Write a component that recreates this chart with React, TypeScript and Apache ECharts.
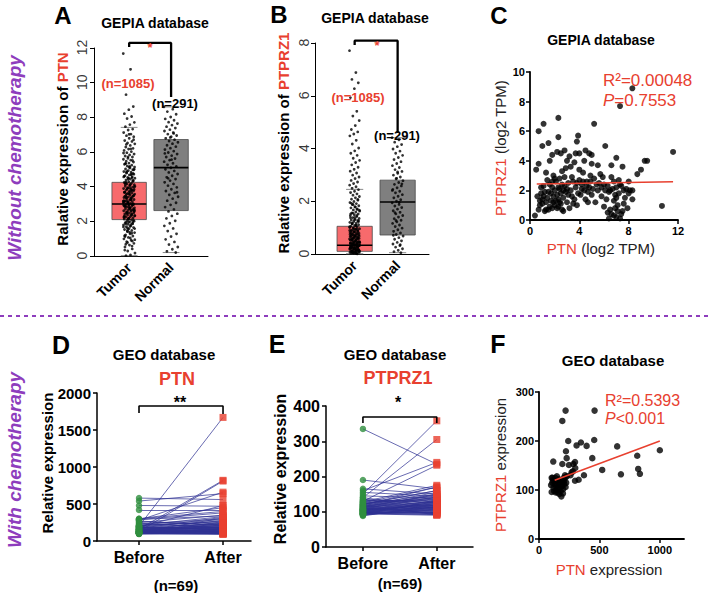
import React, { useEffect, useRef } from 'react';
import * as echarts from 'echarts';

// ---------------- DATA ----------------
const gepiaGroups = ['Tumor', 'Normal'];
const pairGroups = ['Before', 'After'];
const ptnTicks = [0, 2, 4, 6, 8, 10, 12];
const ptprz1Ticks = [0, 2, 4, 6, 8];

// box stats per group: [lower whisker, Q1, median, Q3, upper whisker]
const ptnBoxStats = [
  [0.02, 2.1, 3.0, 4.25, 7.42],
  [0.2, 2.62, 5.1, 6.72, 8.6],
];
const ptprz1BoxStats = [
  [0.01, 0.1, 0.33, 1.05, 2.45],
  [0.05, 0.72, 1.97, 2.8, 4.41],
];

const tumorPTN = [11.68, 10.77, 9.31, 8.62, 8.44, 8.21, 8.05, 7.93, 7.71, 7.58, 7.46, 7.32, 7.27, 7.12, 7.03, 6.94, 6.88, 6.79, 6.66, 6.61, 6.52, 6.47, 6.38, 6.29, 6.21, 6.17, 6.09, 6.02, 5.96, 5.88, 5.83, 5.77, 5.71, 5.64, 5.58, 5.53, 5.47, 5.42, 5.36, 5.29, 5.24, 5.19, 5.13, 5.08, 5.02, 4.98, 4.93, 4.87, 4.84, 4.79, 4.72, 4.68, 4.63, 4.57, 4.53, 4.49, 4.44, 4.38, 4.33, 4.29, 4.24, 4.19, 4.16, 4.11, 4.06, 4.02, 3.97, 3.94, 3.89, 3.85, 3.81, 3.76, 3.73, 3.68, 3.64, 3.61, 3.57, 3.52, 3.48, 3.45, 3.41, 3.37, 3.33, 3.3, 3.26, 3.22, 3.18, 3.14, 3.11, 3.07, 3.03, 2.99, 2.96, 2.92, 2.89, 2.86, 2.82, 2.78, 2.75, 2.71, 2.68, 2.64, 2.61, 2.57, 2.54, 2.5, 2.47, 2.43, 2.39, 2.36, 2.32, 2.28, 2.25, 2.21, 2.17, 2.13, 2.09, 2.05, 2.01, 1.97, 1.92, 1.88, 1.83, 1.79, 1.74, 1.69, 1.64, 1.58, 1.53, 1.47, 1.41, 1.35, 1.28, 1.22, 1.15, 1.07, 0.99, 0.91, 0.82, 0.73, 0.63, 0.52, 0.41, 0.29, 0.17, 0.06, 0.02, 3.02, 2.97, 3.12, 3.38, 2.46, 2.58, 3.71, 4.13, 1.86, 2.14, 2.93, 3.24, 3.56, 2.69, 2.81, 3.44, 4.52, 1.62, 2.33, 3.91, 5.34, 4.76, 1.96, 2.27, 2.63, 3.17, 3.84, 1.37, 1.12, 0.86,
  1.53, 1.68, 1.81, 1.94, 2.07, 2.19, 2.31, 2.42, 2.53, 2.66, 2.77, 2.88, 2.98, 3.09, 3.19, 3.29, 3.39, 3.5, 3.6, 3.7, 3.8, 3.92, 4.03, 4.14, 4.26, 4.37, 4.49, 4.61, 4.74, 4.88, 5.01, 5.17, 5.33, 5.51, 5.72, 5.94, 6.18, 6.44, 6.71, 7.02, 1.17, 1.31, 1.44, 1.58, 1.71, 1.85, 1.98, 2.11, 2.23, 2.35, 2.48, 2.6, 2.72, 2.84, 2.95, 3.06, 3.16, 3.27, 3.36, 3.47, 3.58, 3.67, 3.78, 3.87, 3.98, 4.09, 4.2, 4.31, 4.43, 4.56, 4.69, 4.82, 4.97, 5.12, 0.34, 0.57, 0.78, 0.94, 1.04, 0.68];
const normalPTN = [8.61, 8.47, 8.33, 8.18, 8.02, 7.91, 7.83, 7.72, 7.64, 7.55, 7.46, 7.38, 7.29, 7.21, 7.12, 7.03, 6.95, 6.88, 6.79, 6.71, 6.63, 6.56, 6.48, 6.39, 6.31, 6.22, 6.14, 6.05, 5.97, 5.88, 5.79, 5.71, 5.62, 5.53, 5.44, 5.35, 5.26, 5.17, 5.09, 5.0, 4.91, 4.82, 4.73, 4.63, 4.54, 4.44, 4.35, 4.25, 4.16, 4.06, 3.96, 3.85, 3.75, 3.64, 3.53, 3.42, 3.31, 3.19, 3.07, 2.95, 2.82, 2.69, 2.57, 2.44, 2.31, 2.17, 2.03, 1.89, 1.74, 1.59, 1.44, 1.28, 1.12, 0.96, 0.81, 0.66, 0.52, 0.39, 0.27, 0.2, 6.84, 5.92, 7.07, 4.48, 3.68, 5.56];
const tumorPTPRZ1 = [7.71, 6.88, 6.62, 6.49, 6.27, 5.93, 5.41, 5.23, 5.06, 4.87, 4.72, 4.63, 4.55, 4.48, 4.31, 4.17, 4.02, 3.91, 3.82, 3.74, 3.63, 3.55, 3.47, 3.38, 3.29, 3.21, 3.14, 3.07, 2.99, 2.92, 2.86, 2.79, 2.73, 2.67, 2.61, 2.55, 2.49, 2.44, 2.38, 2.33, 2.28, 2.23, 2.18, 2.13, 2.08, 2.04, 1.99, 1.95, 1.91, 1.87, 1.83, 1.79, 1.75, 1.71, 1.67, 1.63, 1.59, 1.56, 1.52, 1.49, 1.45, 1.42, 1.38, 1.35, 1.32, 1.29, 1.26, 1.23, 1.2, 1.17, 1.14, 1.11, 1.08, 1.05, 1.02, 0.99, 0.96, 0.93, 0.9, 0.87, 0.84, 0.81, 0.78, 0.75, 0.72, 0.69, 0.66, 0.63, 0.6, 0.57, 0.54, 0.51, 0.48, 0.45, 0.42, 0.39, 0.36, 0.33, 0.3, 0.27, 0.24, 0.21, 0.18, 0.15, 0.12, 0.09, 0.06, 0.03, 0.01, 0.05, 0.11, 0.17, 0.23, 0.29, 0.35, 0.41, 0.47, 0.53, 0.59, 0.65, 0.71, 0.77, 0.83, 0.89, 0.95, 0.08, 0.14, 0.2, 0.26, 0.32, 0.38, 0.44, 0.5, 0.56, 0.62, 0.68, 0.74, 0.02, 0.07, 0.13, 0.19, 0.25, 0.31, 0.37, 0.43, 0.04, 0.1, 0.16, 0.22, 0.28,
  0.02, 0.04, 0.06, 0.09, 0.12, 0.15, 0.18, 0.21, 0.24, 0.27, 0.31, 0.34, 0.37, 0.41, 0.44, 0.47, 0.51, 0.55, 0.58, 0.62, 0.66, 0.7, 0.74, 0.79, 0.84, 0.88, 0.93, 0.98, 1.03, 1.09, 1.15, 1.22, 1.29, 1.37, 1.46, 1.55, 1.66, 1.78, 1.92, 2.07, 0.03, 0.07, 0.1, 0.13, 0.16, 0.19, 0.23, 0.26, 0.3, 0.33, 0.36, 0.4, 0.43, 0.46, 0.52, 0.57, 0.61, 0.67, 0.73, 0.8, 0.86, 0.92, 1.0, 1.08, 1.17, 1.27, 1.39, 1.52, 1.69, 1.88];
const normalPTPRZ1 = [4.41, 4.33, 4.24, 4.15, 4.07, 3.98, 3.9, 3.82, 3.74, 3.66, 3.58, 3.5, 3.43, 3.35, 3.28, 3.2, 3.13, 3.06, 2.99, 2.92, 2.85, 2.78, 2.71, 2.64, 2.58, 2.51, 2.45, 2.38, 2.32, 2.25, 2.19, 2.13, 2.06, 2.0, 1.94, 1.88, 1.82, 1.76, 1.7, 1.64, 1.58, 1.52, 1.46, 1.4, 1.34, 1.28, 1.22, 1.16, 1.1, 1.04, 0.98, 0.92, 0.86, 0.8, 0.74, 0.68, 0.62, 0.56, 0.5, 0.44, 0.38, 0.32, 0.26, 0.2, 0.14, 0.09, 0.05, 2.87, 2.41, 1.96, 1.57, 2.66, 3.11, 0.71, 0.35, 1.27];

// C: GEPIA PTN vs PTPRZ1 (log2 TPM)
const gepiaScatter = [
  [0.4, 0.3], [0.7, 0.7], [0.8, 1.0], [0.6, 1.6], [0.9, 1.8], [0.5, 3.4], [0.7, 3.8], [0.7, 6.0], [1.0, 5.0], [1.1, 6.5],
  [1.5, 5.2], [1.6, 4.0], [2.3, 6.9], [2.3, 5.6], [2.2, 4.6], [2.5, 4.5], [2.8, 4.7], [3.2, 4.3], [3.7, 4.5], [3.9, 5.7],
  [3.8, 5.3], [4.0, 4.5], [4.5, 4.7], [4.8, 4.5], [5.0, 4.4], [5.2, 6.5], [6.1, 5.0], [7.0, 4.2], [6.6, 3.7], [5.5, 3.7],
  [7.5, 3.6], [8.7, 3.1], [9.0, 3.4], [9.3, 4.0], [9.5, 4.0], [11.6, 4.6], [10.7, 0.95], [8.3, 8.9], [7.3, 7.7], [8.0, 2.6],
  [8.3, 1.4], [7.9, 0.8], [7.3, 0.1], [6.6, 0.4], [6.5, 0.7], [6.3, 0.5], [7.0, 0.2], [6.2, 1.4], [6.8, 1.3], [7.1, 1.0],
  [7.5, 0.6], [6.9, 0.8], [7.2, 1.8], [7.6, 2.0], [7.8, 2.1], [7.4, 2.3], [6.8, 2.6], [7.0, 2.2], [6.5, 2.0], [6.0, 2.4],
  [5.8, 1.6], [5.5, 2.0], [5.2, 2.8], [5.0, 1.7], [4.8, 2.2], [4.6, 2.6], [4.4, 2.0], [4.2, 2.4], [4.0, 2.7], [3.9, 1.8],
  [3.7, 2.2], [3.5, 2.6], [3.4, 1.6], [3.3, 2.0], [3.1, 2.5], [3.0, 1.2], [2.9, 1.9], [2.8, 2.9], [2.7, 1.5], [2.6, 0.7],
  [2.5, 1.1], [2.4, 2.1], [2.3, 1.4], [2.2, 0.8], [2.1, 2.6], [2.0, 1.0], [1.9, 1.6], [1.8, 2.2], [1.7, 1.3], [1.6, 0.9],
  [1.5, 1.9], [1.4, 2.7], [1.3, 1.2], [1.2, 0.6], [1.1, 2.3], [1.0, 1.4], [1.9, 3.0], [2.6, 3.3], [3.3, 3.6], [4.3, 3.2],
  [4.9, 3.0], [5.7, 3.1], [3.6, 3.9], [2.9, 3.5], [1.3, 3.2], [1.8, 2.6], [2.4, 2.8], [2.7, 0.6], [3.2, 0.8], [1.5, 0.7],
  [4.5, 1.4], [5.3, 1.2], [6.0, 0.9], [6.4, 1.9], [6.9, 1.7], [7.7, 1.5], [8.1, 2.0], [2.0, 2.0], [2.2, 1.7], [2.5, 1.8],
  [2.8, 2.3], [3.0, 2.1], [3.6, 1.4], [4.1, 1.7], [4.7, 1.9], [5.4, 2.4], [5.9, 2.9], [6.6, 2.9], [7.2, 2.7], [1.2, 1.9],
  [1.4, 1.5], [1.7, 1.8], [1.9, 1.2], [2.1, 1.3], [2.3, 2.2], [2.6, 2.4], [3.1, 1.7], [3.5, 1.1], [3.8, 2.5], [4.2, 2.1],
  [4.6, 2.3], [4.9, 2.6], [5.1, 2.1], [0.9, 2.2], [1.1, 1.6], [1.6, 2.4], [2.0, 2.8], [2.4, 1.2], [2.7, 2.0], [3.4, 2.9],
  [4.0, 3.4], [4.4, 4.0], [5.0, 3.8], [3.0, 4.0], [1.8, 4.4], [6.8, 0.3], [7.4, 0.4], [6.4, 0.1], [7.1, 0.6], [7.6, 1.1],
  [8.0, 1.8], [6.7, 2.1], [6.3, 2.3], [7.3, 2.4], [8.3, 2.0], [7.0, 1.5], [4.3, 2.6], [3.8, 1.0], [4.7, 1.2], [5.6, 2.5],
  [1.3, 0.7], [1.8, 0.8], [2.3, 0.9], [1.0, 1.1], [0.8, 1.3], [5.8, 2.2], [6.1, 2.0],
];
const gepiaFit = [[0.55, 2.43], [11.6, 2.58]];

// D: GEO PTN before/after chemotherapy, [before, after]
const geoPtnPairs = [
  [200, 1670], [160, 820], [130, 810], [280, 660], [580, 560], [540, 640], [480, 470], [420, 420], [300, 450], [290, 380],
  [250, 350], [230, 300], [210, 260], [190, 480], [180, 240], [170, 320], [160, 210], [150, 280], [150, 190], [140, 230],
  [140, 170], [135, 160], [130, 200], [130, 150], [125, 180], [120, 140], [120, 260], [115, 130], [115, 170], [110, 120],
  [110, 150], [105, 110], [105, 220], [100, 100], [100, 140], [95, 90], [160, 130], [170, 110], [180, 160], [190, 190],
  [200, 150], [210, 330], [220, 200], [240, 180], [260, 220], [145, 250], [135, 115], [125, 105], [118, 125], [112, 135],
  [108, 145], [102, 95], [98, 165], [155, 175], [165, 185], [175, 205], [185, 155], [195, 270], [205, 290], [300, 400],
  [290, 340], [270, 210], [150, 120], [140, 100], [130, 95], [120, 310], [110, 240], [100, 160], [95, 120],
];
// E: GEO PTPRZ1 before/after chemotherapy, [before, after]
const geoPtprz1Pairs = [
  [335, 235], [190, 165], [165, 150], [160, 240], [150, 358], [140, 305], [130, 232], [128, 175], [125, 170], [122, 160],
  [120, 150], [118, 145], [116, 140], [115, 135], [113, 130], [112, 128], [110, 125], [108, 122], [107, 120], [106, 118],
  [105, 115], [104, 112], [103, 110], [102, 108], [101, 105], [100, 103], [100, 100], [99, 98], [98, 96], [97, 95],
  [96, 93], [95, 92], [94, 90], [93, 105], [92, 110], [90, 115], [88, 120], [135, 125], [132, 130], [127, 135],
  [124, 140], [121, 160], [119, 170], [117, 155], [114, 148], [111, 142], [109, 138], [106, 132], [104, 127], [102, 123],
  [99, 117], [97, 113], [95, 107], [93, 102], [110, 97], [115, 94], [120, 91], [125, 99], [130, 104], [135, 109],
  [140, 114], [105, 119], [100, 124], [96, 129], [92, 134], [145, 139], [155, 144], [112, 150], [108, 112],
];

// F: GEO PTN vs PTPRZ1 expression
const geoScatter = [
  [1000, 181], [835, 133], [821, 143], [813, 170], [678, 132], [647, 189], [523, 141], [460, 262], [457, 202], [441, 165],
  [394, 190], [372, 130], [347, 197], [311, 191], [328, 121], [298, 119], [298, 157], [284, 153], [270, 136], [248, 151],
  [242, 200], [229, 165], [220, 262], [223, 179], [193, 241], [193, 153], [118, 158], [185, 87], [105, 125], [110, 115],
  [115, 120], [120, 105], [125, 98], [130, 112], [135, 125], [140, 108], [145, 100], [150, 118], [155, 95], [160, 110],
  [165, 122], [170, 104], [175, 115], [180, 98], [190, 108], [195, 118], [200, 102], [205, 125], [210, 112], [215, 130],
  [220, 106], [225, 115], [230, 128], [100, 110], [105, 96], [112, 125], [128, 118], [138, 95], [148, 128], [158, 105],
  [168, 92], [178, 120], [188, 110], [198, 93], [208, 118], [218, 125], [260, 130], [280, 138], [300, 145],
];
const geoFit = [[130, 120], [1000, 200]];

// ---------------- STYLE ----------------
const RED = '#e8402f';
const PURPLE = '#8e3dbd';
const FONT = '"Liberation Sans", Arial, Helvetica, sans-serif';
const BLUE = '#2e3192';
const GREEN = '#2f8f3f';

const jit = (i: number, w: number) => ((((i * 0.6180339887) % 1) - 0.5) * w);
const plainNum = (v: number) => String(v);

function boxSeries(stats: number[][], ax: number) {
  return {
    type: 'custom',
    xAxisIndex: ax,
    yAxisIndex: ax,
    z: 1,
    silent: true,
    data: stats.map((s, i) => [i, ...s]),
    renderItem: (params: any, api: any) => {
      const x = api.value(0);
      const lo = api.value(1), q1 = api.value(2), med = api.value(3), q3 = api.value(4), hi = api.value(5);
      const hw = 0.41;
      const pA = api.coord([x - hw, q1]);
      const pB = api.coord([x + hw, q3]);
      const m1 = api.coord([x - hw, med]);
      const m2 = api.coord([x + hw, med]);
      const c1 = api.coord([x - 0.2, hi]);
      const c2 = api.coord([x + 0.2, hi]);
      const d1 = api.coord([x - 0.2, lo]);
      const d2 = api.coord([x + 0.2, lo]);
      return {
        type: 'group',
        children: [
          {
            type: 'rect',
            shape: { x: pA[0], y: pB[1], width: pB[0] - pA[0], height: pA[1] - pB[1] },
            style: { fill: x === 0 ? '#f76a6c' : '#7f7f7f', stroke: '#4a4a4a', lineWidth: 0.8 },
          },
          { type: 'line', z2: 10, shape: { x1: m1[0], y1: m1[1], x2: m2[0], y2: m2[1] }, style: { stroke: '#000', lineWidth: 1.6 } },
          { type: 'line', z2: 10, shape: { x1: c1[0], y1: c1[1], x2: c2[0], y2: c2[1] }, style: { stroke: '#8a8a8a', lineWidth: 1 } },
          { type: 'line', z2: 10, shape: { x1: d1[0], y1: d1[1], x2: d2[0], y2: d2[1] }, style: { stroke: '#8a8a8a', lineWidth: 1 } },
        ],
      };
    },
  };
}

function stripSeries(tumor: number[], normal: number[], ax: number, w0: number, w1: number) {
  return {
    type: 'scatter',
    xAxisIndex: ax,
    yAxisIndex: ax,
    z: 2,
    silent: true,
    symbol: 'circle',
    symbolSize: 2.8,
    itemStyle: { color: '#000' },
    data: [
      ...tumor.map((v, i) => [jit(i, w0), v]),
      ...normal.map((v, i) => [1 + jit(i, w1), v]),
    ],
  };
}

// rotated y tick labels (R-style) anchored to the axis through the cartesian scale
function rotatedTickLabels(ticks: number[], ax: number, xAt: number, offset: number) {
  return {
    type: 'scatter',
    xAxisIndex: ax,
    yAxisIndex: ax,
    clip: false,
    silent: true,
    symbolSize: 1,
    itemStyle: { color: 'rgba(0,0,0,0)' },
    z: 6,
    data: ticks.map((t) => [xAt, t]),
    label: {
      show: true,
      formatter: (p: any) => String(p.value[1]),
      position: [offset, 0],
      align: 'center',
      verticalAlign: 'middle',
      rotate: 90,
      fontSize: 14,
      color: '#000',
      fontFamily: FONT,
    },
  };
}

function bracket(points: number[][], ax: number, width: number) {
  return {
    type: 'line',
    xAxisIndex: ax,
    yAxisIndex: ax,
    clip: false,
    silent: true,
    symbol: 'none',
    z: 5,
    lineStyle: { color: '#000', width },
    data: points,
  };
}

function pairSeries(pairs: number[][], ax: number) {
  return [
    {
      type: 'lines',
      coordinateSystem: 'cartesian2d',
      xAxisIndex: ax,
      yAxisIndex: ax,
      z: 2,
      silent: true,
      lineStyle: { color: BLUE, width: 0.8, opacity: 0.9 },
      data: pairs.map(([b, a]) => ({ coords: [[0, b], [1, a]] })),
    },
    {
      type: 'scatter',
      xAxisIndex: ax,
      yAxisIndex: ax,
      z: 3,
      silent: true,
      symbol: 'circle',
      symbolSize: 6.5,
      itemStyle: { color: GREEN },
      data: pairs.map(([b]) => [0, b]),
    },
    {
      type: 'scatter',
      xAxisIndex: ax,
      yAxisIndex: ax,
      z: 3,
      silent: true,
      symbol: 'rect',
      symbolSize: 7,
      itemStyle: { color: RED },
      data: pairs.map(([, a]) => [1, a]),
    },
  ];
}

const blackLine = (w: number) => ({ show: true, onZero: false, lineStyle: { color: '#000', width: w } });

function txt(x: number, y: number, text: string, size: number, opts: any = {}) {
  return {
    type: 'text',
    x,
    y,
    rotation: opts.rotation || 0,
    z: 10,
    silent: true,
    style: {
      text,
      fill: opts.color || '#000',
      fontSize: size,
      fontWeight: opts.weight || 'normal',
      fontStyle: opts.style || 'normal',
      fontFamily: FONT,
      align: opts.align || 'center',
      verticalAlign: 'middle',
      rich: opts.rich,
    },
  };
}

export default function App() {
  const ref = useRef<HTMLDivElement>(null);

  useEffect(() => {
    if (!ref.current) return;
    const chart = echarts.init(ref.current, null, { renderer: 'svg' });

    const grids = [
      { left: 94, top: 48, width: 114, height: 208 },
      { left: 315, top: 43, width: 114, height: 211 },
      { left: 530, top: 72, width: 148, height: 148 },
      { left: 97, top: 393, width: 154, height: 148 },
      { left: 326, top: 406, width: 147, height: 141 },
      { left: 539, top: 392, width: 145, height: 147 },
    ];

    const gepiaX = (i: number, min: number, max: number) => ({
      gridIndex: i,
      type: 'value',
      min,
      max,
      axisLine: blackLine(1),
      axisTick: { show: false },
      splitLine: { show: false },
      axisLabel: {
        customValues: [0, 1],
        formatter: (v: number) => gepiaGroups[Math.round(v)],
        rotate: 45,
        fontSize: 14,
        fontWeight: 'bold',
        color: '#000',
        fontFamily: FONT,
        margin: 9,
      },
    });
    const gepiaY = (i: number, max: number) => ({
      gridIndex: i,
      type: 'value',
      min: 0,
      max,
      interval: 2,
      axisLine: blackLine(1),
      axisTick: { show: true, length: 4, lineStyle: { color: '#000' } },
      splitLine: { show: false },
      axisLabel: { show: false },
    });
    const pairX = (i: number, max: number, size: number) => ({
      gridIndex: i,
      type: 'value',
      min: -0.5,
      max,
      axisLine: blackLine(1.5),
      axisTick: { show: true, customValues: [0, 1], length: 4, lineStyle: { color: '#000', width: 1.5 } },
      splitLine: { show: false },
      axisLabel: {
        customValues: [0, 1],
        formatter: (v: number) => pairGroups[Math.round(v)],
        fontSize: size,
        fontWeight: 'bold',
        color: '#000',
        fontFamily: FONT,
        margin: 8,
      },
    });
    const pairY = (i: number, max: number, interval: number, size: number) => ({
      gridIndex: i,
      type: 'value',
      min: 0,
      max,
      interval,
      axisLine: blackLine(1.5),
      axisTick: { show: true, length: 4, lineStyle: { color: '#000', width: 1.5 } },
      splitLine: { show: false },
      axisLabel: { fontSize: size, fontWeight: 'bold', color: '#000', fontFamily: FONT, margin: 6, formatter: plainNum },
    });
    const plainAxis = (i: number, max: number, interval: number, custom?: number[]) => ({
      gridIndex: i,
      type: 'value',
      min: 0,
      max,
      interval,
      axisLine: blackLine(1.8),
      axisTick: { show: true, length: 4, lineStyle: { color: '#000', width: 1.5 }, ...(custom ? { customValues: custom } : {}) },
      splitLine: { show: false },
      axisLabel: {
        fontSize: 11,
        fontWeight: 'bold',
        color: '#000',
        fontFamily: FONT,
        margin: 5,
        formatter: plainNum,
        ...(custom ? { customValues: custom } : {}),
      },
    });

    const statStyle = {
      i: { fontStyle: 'italic', fontSize: 17, fill: RED, fontFamily: FONT },
      n: { fontSize: 17, fill: RED, fontFamily: FONT },
    };
    const statStyleF = {
      i: { fontStyle: 'italic', fontSize: 16, fill: RED, fontFamily: FONT },
      n: { fontSize: 16, fill: RED, fontFamily: FONT },
    };

    const option: any = {
      animation: false,
      backgroundColor: '#fff',
      textStyle: { fontFamily: FONT },
      grid: grids,
      xAxis: [
        gepiaX(0, -0.838, 1.88),
        gepiaX(1, -0.923, 1.73),
        plainAxis(2, 12, 4),
        pairX(3, 1.333, 16),
        pairX(4, 1.49, 16),
        plainAxis(5, 1200, 500, [0, 500, 1000]),
      ],
      yAxis: [
        gepiaY(0, 12),
        gepiaY(1, 8),
        plainAxis(2, 10, 2),
        pairY(3, 2000, 500, 15),
        pairY(4, 400, 100, 16),
        plainAxis(5, 300, 100),
      ],
      series: [
        boxSeries(ptnBoxStats, 0),
        stripSeries(tumorPTN, normalPTN, 0, 0.28, 0.34),
        bracket([[0, 12.06], [0, 12.29], [1, 12.29], [1, 9.17]], 0, 2.3),
        rotatedTickLabels(ptnTicks, 0, -0.838, -12),
        boxSeries(ptprz1BoxStats, 1),
        stripSeries(tumorPTPRZ1, normalPTPRZ1, 1, 0.24, 0.26),
        bracket([[0, 7.92], [0, 8.09], [1, 8.09], [1, 4.59]], 1, 2.3),
        rotatedTickLabels(ptprz1Ticks, 1, -0.923, -11),
        {
          type: 'scatter',
          xAxisIndex: 2,
          yAxisIndex: 2,
          symbolSize: 6,
          silent: true,
          itemStyle: { color: '#000' },
          data: gepiaScatter,
        },
        {
          type: 'line',
          xAxisIndex: 2,
          yAxisIndex: 2,
          symbol: 'none',
          silent: true,
          lineStyle: { color: RED, width: 1.5 },
          data: gepiaFit,
        },
        ...pairSeries(geoPtnPairs, 3),
        bracket([[0, 1730], [0, 1824], [1, 1824], [1, 1716]], 3, 1.6),
        ...pairSeries(geoPtprz1Pairs, 4),
        bracket([[0, 352], [0, 369], [1, 369], [1, 352]], 4, 1.6),
        {
          type: 'scatter',
          xAxisIndex: 5,
          yAxisIndex: 5,
          symbolSize: 6.5,
          silent: true,
          itemStyle: { color: '#000' },
          data: geoScatter,
        },
        {
          type: 'line',
          xAxisIndex: 5,
          yAxisIndex: 5,
          symbol: 'none',
          silent: true,
          lineStyle: { color: RED, width: 1.5 },
          data: geoFit,
        },
      ],
      graphic: [
        // divider
        {
          type: 'line',
          silent: true,
          shape: { x1: 0, y1: 316, x2: 709, y2: 316 },
          style: { stroke: PURPLE, lineWidth: 2, lineDash: [4, 4] },
        },
        // side labels
        txt(14, 158, 'Without chemotherapy', 19, { rotation: Math.PI / 2, color: PURPLE, weight: 'bold', style: 'italic' }),
        txt(14, 460, 'With chemotherapy', 19, { rotation: Math.PI / 2, color: PURPLE, weight: 'bold', style: 'italic' }),
        // panel letters
        txt(63, 15, 'A', 24, { weight: 'bold' }),
        txt(279, 14, 'B', 24, { weight: 'bold' }),
        txt(499, 15, 'C', 24, { weight: 'bold' }),
        txt(61, 345, 'D', 25, { weight: 'bold' }),
        txt(277, 344, 'E', 25, { weight: 'bold' }),
        txt(498, 344, 'F', 25, { weight: 'bold' }),
        // titles
        txt(155, 23, 'GEPIA database', 14, { weight: 'bold' }),
        txt(375, 18, 'GEPIA database', 14, { weight: 'bold' }),
        txt(601, 40, 'GEPIA database', 14, { weight: 'bold' }),
        txt(164, 354, 'GEO database', 15, { weight: 'bold' }),
        txt(395, 354, 'GEO database', 15, { weight: 'bold' }),
        txt(613, 360, 'GEO database', 15, { weight: 'bold' }),
        txt(177, 379, 'PTN', 18, { weight: 'bold', color: RED }),
        txt(398, 378, 'PTPRZ1', 18, { weight: 'bold', color: RED }),
        // n labels
        txt(128, 83, '(n=1085)', 13, { weight: 'bold', color: RED }),
        txt(175, 103, '(n=291)', 13, { weight: 'bold' }),
        txt(358, 97, '(n=1085)', 13, { weight: 'bold', color: RED }),
        txt(397, 135, '(n=291)', 13, { weight: 'bold' }),
        txt(176, 585, '(n=69)', 15, { weight: 'bold' }),
        txt(400, 583, '(n=69)', 15, { weight: 'bold' }),
        // significance marks
        txt(150, 47, '*', 13, { weight: 'bold', color: RED }),
        txt(377, 45, '*', 13, { weight: 'bold', color: RED }),
        txt(180, 402, '**', 16, { weight: 'bold' }),
        txt(398, 402, '*', 16, { weight: 'bold' }),
        // stats
        txt(603, 80, 'R\u00b2=0.00048', 17, { align: 'left', color: RED }),
        txt(603, 100, '{i|P}{n|=0.7553}', 17, { align: 'left', color: RED, rich: statStyle }),
        txt(605, 400, 'R\u00b2=0.5393', 16, { align: 'left', color: RED }),
        txt(605, 418, '{i|P}{n|<0.001}', 16, { align: 'left', color: RED, rich: statStyleF }),
        // axis titles
        txt(62, 149, '{a|Ralative expression of }{b|PTN}', 15, {
          rotation: Math.PI / 2,
          rich: {
            a: { fontSize: 15, fontWeight: 'bold', fill: '#000', fontFamily: FONT },
            b: { fontSize: 15, fontWeight: 'bold', fill: RED, fontFamily: FONT },
          },
        }),
        txt(283, 143, '{a|Ralative expression of }{b|PTPRZ1}', 15, {
          rotation: Math.PI / 2,
          rich: {
            a: { fontSize: 15, fontWeight: 'bold', fill: '#000', fontFamily: FONT },
            b: { fontSize: 15, fontWeight: 'bold', fill: RED, fontFamily: FONT },
          },
        }),
        txt(500, 148, '{b|PTPRZ1}{a| (log2 TPM)}', 15, {
          rotation: Math.PI / 2,
          rich: {
            a: { fontSize: 15, fill: '#222', fontFamily: FONT },
            b: { fontSize: 15, fill: RED, fontFamily: FONT },
          },
        }),
        txt(601, 248, '{b|PTN}{a| (log2 TPM)}', 15, {
          rich: {
            a: { fontSize: 15, fill: '#222', fontFamily: FONT },
            b: { fontSize: 15, fill: RED, fontFamily: FONT },
          },
        }),
        txt(47, 463, 'Relative expression', 15, { rotation: Math.PI / 2, weight: 'bold' }),
        txt(280, 469, 'Relative expression', 16, { rotation: Math.PI / 2, weight: 'bold' }),
        txt(500, 465, '{b|PTPRZ1}{a| expression}', 15, {
          rotation: Math.PI / 2,
          rich: {
            a: { fontSize: 15, fill: '#222', fontFamily: FONT },
            b: { fontSize: 15, fill: RED, fontFamily: FONT },
          },
        }),
        txt(609, 569, '{b|PTN}{a| expression}', 15, {
          rich: {
            a: { fontSize: 15, fill: '#222', fontFamily: FONT },
            b: { fontSize: 15, fill: RED, fontFamily: FONT },
          },
        }),
      ],
    };

    chart.setOption(option);
    return () => chart.dispose();
  }, []);

  return (
    <div
      ref={ref}
      style={{ position: 'absolute', left: 0, top: 0, width: 709, height: 593, background: '#fff' }}
    />
  );
}
